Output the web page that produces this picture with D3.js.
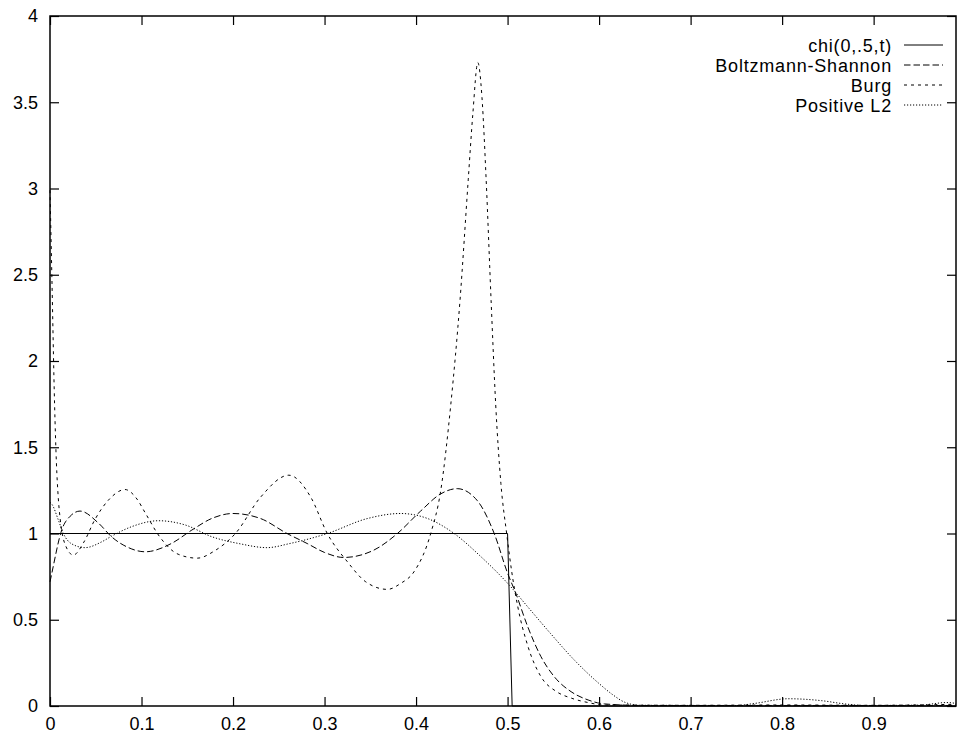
<!DOCTYPE html>
<meta charset="utf-8">
<script src="https://d3js.org/d3.v7.min.js"></script>
<style>
  body { margin: 0; background: #fff; }
  text { font-family: "Liberation Sans", Arial, sans-serif; font-size: 18px; fill: #000; }
</style>
<div id="chart"></div>
<script>

// tick values and labels
const xTicks = [0, 0.1, 0.2, 0.3, 0.4, 0.5, 0.6, 0.7, 0.8, 0.9];
const xTickLabels = ["0", "0.1", "0.2", "0.3", "0.4", "0.5", "0.6", "0.7", "0.8", "0.9"];
const yTicks = [0, 0.5, 1, 1.5, 2, 2.5, 3, 3.5, 4];
const yTickLabels = ["0", "0.5", "1", "1.5", "2", "2.5", "3", "3.5", "4"];

// series names (legend order)
const seriesNames = ["chi(0,.5,t)", "Boltzmann-Shannon", "Burg", "Positive L2"];

// chi(0,.5,t)
const chiT = [0, 0.5, 0.505, 0.99];
const chiV = [1, 1, 0, 0];

// Boltzmann-Shannon
const bsT = [0, 0.002, 0.0128, 0.022, 0.0328, 0.053, 0.0675, 0.085, 0.104, 0.133, 0.155, 0.178, 0.2, 0.23,
  0.259, 0.281, 0.3, 0.321, 0.354, 0.3796, 0.405, 0.427, 0.445, 0.467, 0.4854, 0.5, 0.509, 0.522,
  0.5365, 0.551, 0.5694, 0.588, 0.606, 0.65, 0.99];
const bsV = [0.72, 0.77, 1.02, 1.1, 1.13, 1.06, 0.98, 0.92, 0.894, 0.943, 1.02, 1.09, 1.116, 1.087,
  1.0, 0.942, 0.89, 0.861, 0.904, 1.0, 1.13, 1.23, 1.26, 1.19, 1.0, 0.77, 0.653, 0.46,
  0.286, 0.17, 0.083, 0.035, 0.012, 0.003, 0.003];

// Burg
const burgT = [0, 0.002, 0.005, 0.007, 0.009, 0.011, 0.017, 0.0255, 0.037, 0.049, 0.065, 0.082, 0.095,
  0.104, 0.12, 0.14, 0.161, 0.18, 0.2026, 0.23, 0.261, 0.285, 0.303, 0.325, 0.345, 0.3687, 0.383,
  0.398, 0.416, 0.427, 0.438, 0.448, 0.457, 0.462, 0.4675, 0.472, 0.4766, 0.482, 0.487, 0.4927,
  0.499, 0.5045, 0.511, 0.522, 0.5365, 0.553, 0.57, 0.588, 0.605, 0.7, 0.8, 0.9, 0.99];
const burgV = [2.99, 2.5, 1.75, 1.41, 1.21, 1.09, 0.93, 0.875, 0.95, 1.08, 1.2, 1.255, 1.2,
  1.12, 0.98, 0.88, 0.857, 0.9, 1.0, 1.21, 1.338, 1.21, 1.0, 0.836, 0.72, 0.676, 0.71,
  0.78, 1.0, 1.25, 1.75, 2.35, 3.05, 3.43, 3.73, 3.53, 3.05, 2.35, 1.75, 1.29,
  1.0, 0.78, 0.58, 0.35, 0.17, 0.085, 0.045, 0.02, 0.006, 0.004, 0.006, 0.004, 0.01];

// Positive L2
const l2T = [0, 0.002, 0.009, 0.0146, 0.0237, 0.0383, 0.0566, 0.0675, 0.0894, 0.1186, 0.148, 0.177,
  0.208, 0.237, 0.263, 0.303, 0.347, 0.383, 0.4125, 0.4416, 0.471, 0.502, 0.522, 0.547, 0.573,
  0.6, 0.615, 0.628, 0.645, 0.75, 0.77, 0.8066, 0.843, 0.8686, 0.89, 0.95, 0.98, 0.99];
const l2V = [1.18, 1.17, 1.08, 1.0, 0.94, 0.918, 0.952, 0.985, 1.04, 1.074, 1.049, 0.981,
  0.94, 0.918, 0.943, 1.0, 1.087, 1.116, 1.087, 1.0, 0.865, 0.70, 0.575, 0.42, 0.266,
  0.13, 0.065, 0.022, 0.004, 0.003, 0.015, 0.042, 0.031, 0.012, 0.003, 0.005, 0.02, 0.015];

const W = 959, H = 734;
const plotLeft = 50, plotRight = 956, plotTop = 16, plotBottom = 706;

const svg = d3.select("#chart").append("svg")
  .attr("width", W)
  .attr("height", H);

const x = d3.scaleLinear().domain([0, 0.99]).range([plotLeft, plotRight]);
const y = d3.scaleLinear().domain([0, 4]).range([plotBottom, plotTop]);

// axes, ticks pointing inward, mirrored on top and right
svg.append("g")
  .attr("transform", `translate(0,${plotBottom})`)
  .call(d3.axisBottom(x).tickValues(xTicks).tickSize(-9).tickPadding(11)
    .tickFormat((d, i) => xTickLabels[i]));
svg.append("g")
  .attr("transform", `translate(0,${plotTop})`)
  .call(d3.axisTop(x).tickValues(xTicks).tickSize(-9).tickFormat(""));
svg.append("g")
  .attr("transform", `translate(${plotLeft},0)`)
  .call(d3.axisLeft(y).tickValues(yTicks).tickSize(-9).tickPadding(12)
    .tickFormat((d, i) => yTickLabels[i]));
svg.append("g")
  .attr("transform", `translate(${plotRight},0)`)
  .call(d3.axisRight(y).tickValues(yTicks).tickSize(-9).tickFormat(""));

svg.selectAll(".domain").remove();
svg.selectAll(".tick line").attr("stroke", "#000").attr("stroke-width", 1.2);
svg.selectAll(".tick text")
  .style("font-family", "'Liberation Sans', Arial, sans-serif")
  .style("font-size", "18px")
  .attr("fill", "#000");

// frame
svg.append("rect")
  .attr("x", plotLeft).attr("y", plotTop)
  .attr("width", plotRight - plotLeft).attr("height", plotBottom - plotTop)
  .attr("fill", "none")
  .attr("stroke", "#000")
  .attr("stroke-width", 1.5);

const series = [
  {name: seriesNames[0], t: chiT, v: chiV, dash: null, curve: d3.curveLinear},
  {name: seriesNames[1], t: bsT, v: bsV, dash: "6.5,3", curve: d3.curveMonotoneX},
  {name: seriesNames[2], t: burgT, v: burgV, dash: "3,4", curve: d3.curveMonotoneX},
  {name: seriesNames[3], t: l2T, v: l2V, dash: "1.2,1.8", curve: d3.curveMonotoneX}
];

series.forEach(function(s) {
  const pts = s.t.map((t, i) => [t, s.v[i]]);
  const line = d3.line()
    .x(d => x(d[0]))
    .y(d => y(d[1]))
    .curve(s.curve);
  svg.append("path")
    .datum(pts)
    .attr("d", line)
    .attr("fill", "none")
    .attr("stroke", "#000")
    .attr("stroke-width", 1)
    .attr("stroke-dasharray", s.dash);
});

// legend
const lg = svg.append("g");
series.forEach(function(s, i) {
  const cy = 45 + i * 20;
  lg.append("text")
    .attr("x", 892)
    .attr("y", cy + 7)
    .attr("text-anchor", "end")
    .style("letter-spacing", "0.8px")
    .text(s.name);
  lg.append("line")
    .attr("x1", 904).attr("x2", 943)
    .attr("y1", cy).attr("y2", cy)
    .attr("stroke", "#000")
    .attr("stroke-width", 1)
    .attr("stroke-dasharray", s.dash);
});

</script>
